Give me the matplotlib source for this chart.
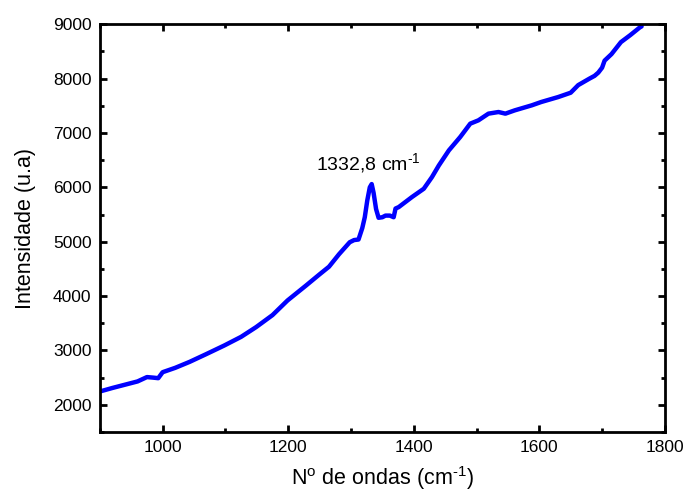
import matplotlib
matplotlib.use("Agg")
import matplotlib.pyplot as plt
from matplotlib.ticker import MultipleLocator

plt.rcParams['font.family'] = ['Liberation Sans', 'DejaVu Sans']
plt.rcParams['mathtext.fontset'] = 'custom'
plt.rcParams['mathtext.rm'] = 'Liberation Sans'
plt.rcParams['mathtext.it'] = 'Liberation Sans'

# Raman spectrum
wavenumber = [900, 920, 940, 960, 975, 985, 993, 1000, 1020, 1043, 1069, 1098,
              1125, 1149, 1175, 1199, 1228, 1250, 1265, 1281, 1298, 1305, 1312,
              1318, 1322, 1326, 1330, 1333, 1336, 1340, 1344, 1350, 1355, 1362,
              1368, 1371, 1376, 1397, 1416, 1429, 1440, 1456, 1474, 1490,
              1503, 1519, 1535, 1546, 1561, 1588, 1603, 1630, 1650, 1662, 1680,
              1688, 1694, 1700, 1704, 1715, 1730, 1745, 1760, 1763]
intensity = [2245, 2310, 2370, 2430, 2510, 2500, 2490, 2600, 2680, 2790, 2930, 3090,
             3250, 3430, 3650, 3920, 4190, 4400, 4540, 4770, 4990, 5030, 5040,
             5250, 5450, 5760, 6000, 6060, 5900, 5600, 5440, 5450, 5480, 5480,
             5450, 5610, 5636, 5820, 5974, 6188, 6403, 6680, 6925, 7171,
             7232, 7355, 7385, 7355, 7416, 7508, 7569, 7660, 7740, 7880, 8000,
             8050, 8110, 8200, 8330, 8450, 8670, 8800, 8940, 8960]

peak_label = r'1332,8 cm$^{\text{-}1}$'

fig = plt.figure(figsize=(6.84, 4.94), dpi=100)
ax = fig.add_axes([0.146, 0.1255, 0.826, 0.8255])
ax.plot(wavenumber, intensity, color='#0000ff', linewidth=3.2, solid_capstyle='round')

ax.set_xlim(900, 1800)
ax.set_ylim(1500, 9000)
ax.xaxis.set_major_locator(MultipleLocator(200))
ax.xaxis.set_minor_locator(MultipleLocator(100))
ax.yaxis.set_major_locator(MultipleLocator(1000))
ax.yaxis.set_minor_locator(MultipleLocator(500))
ax.tick_params(which='both', direction='in', top=True, right=True, width=2,
               labelsize=12.5, pad=6)
ax.tick_params(which='major', length=5)
ax.tick_params(which='minor', length=3)
for s in ax.spines.values():
    s.set_linewidth(2)

ax.set_xlabel(r'N$^{\text{o}}$ de ondas (cm$^{\text{-}1}$)', fontsize=15.5, labelpad=6)
ax.set_ylabel('Intensidade (u.a)', fontsize=15.5, labelpad=12)
ax.text(1244, 6330, peak_label, fontsize=14)

fig.savefig('out.png', dpi=100)
